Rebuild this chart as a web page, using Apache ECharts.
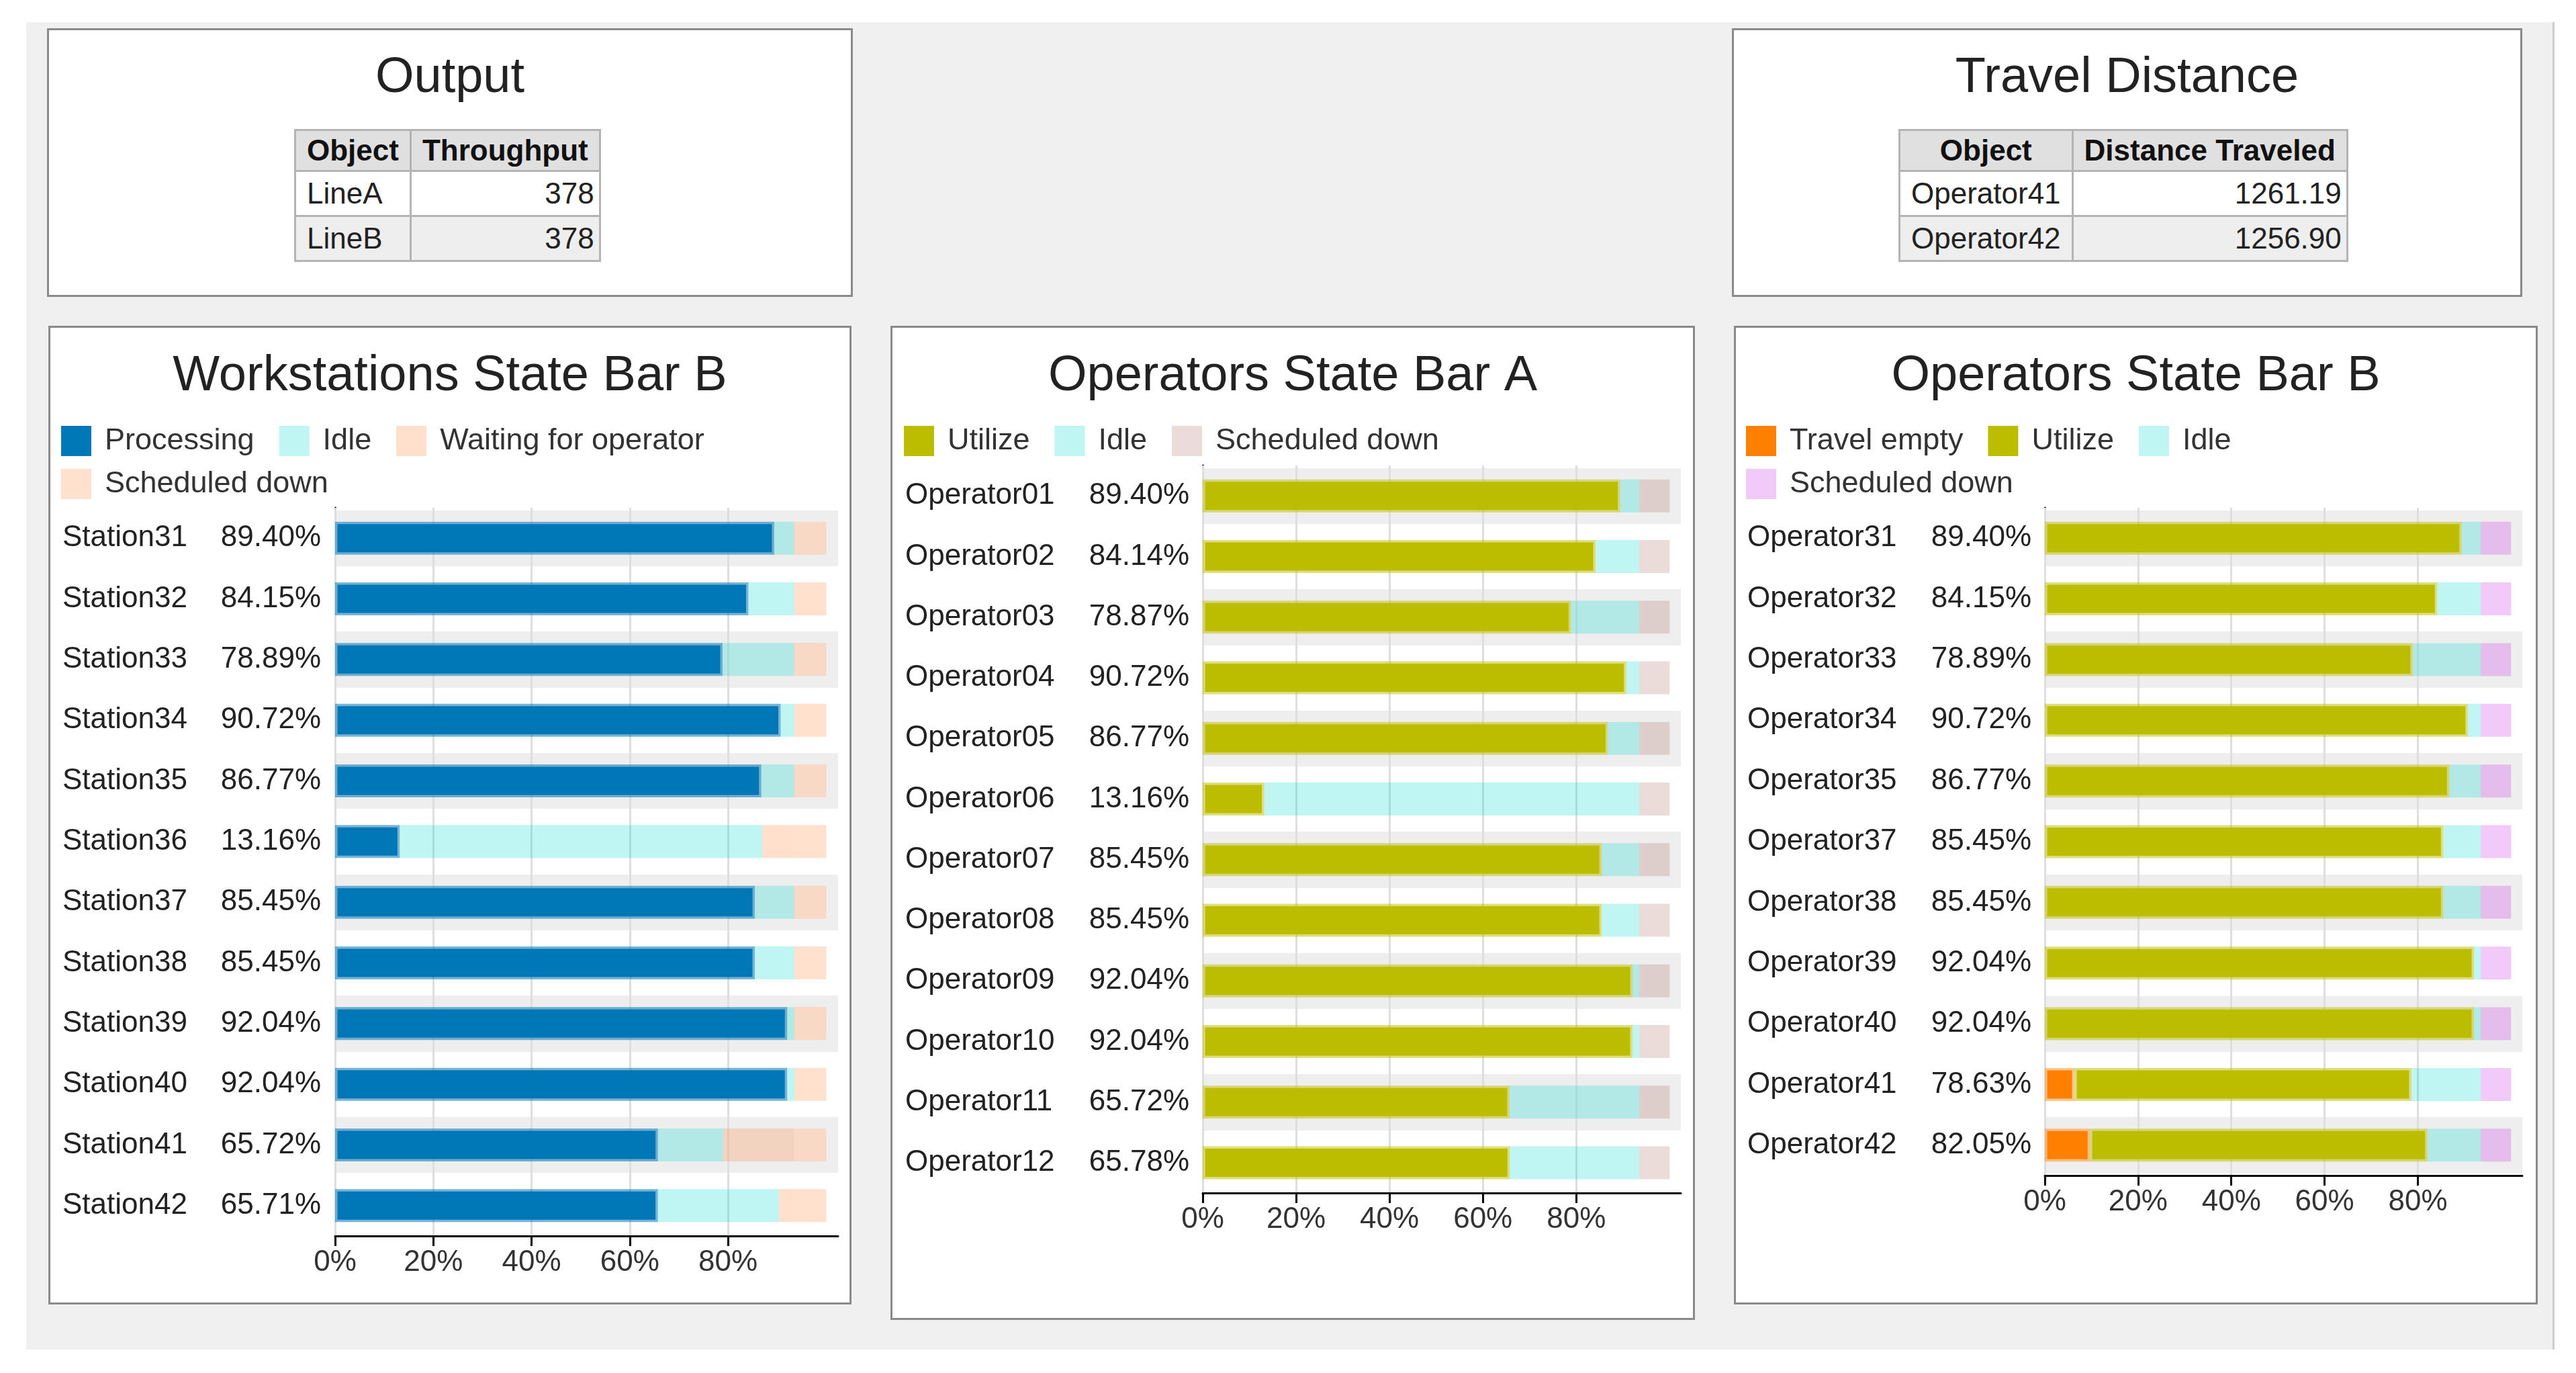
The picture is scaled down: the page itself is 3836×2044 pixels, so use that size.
<!DOCTYPE html>
<html>
<head>
<meta charset="utf-8">
<script src="https://cdn.jsdelivr.net/npm/echarts@6/dist/echarts.min.js"></script>
<style>
html, body { margin: 0; padding: 0; background: #ffffff; width: 3836px; height: 2044px; overflow: hidden;
  font-family: 'Liberation Sans', Arial, sans-serif; }
#bg { position: absolute; left: 39px; top: 33px; width: 3762px; height: 1976px; background: #f0f0f0;
  border-right: 3px solid #cdcdcd; }
.panel { position: absolute; background: #ffffff; border: 3px solid #8a8a8a; box-sizing: border-box; }
.ptitle { position: absolute; left: 0; right: 0; top: 30px; text-align: center; font-size: 74px; line-height: 74px; color: #222; }
.chart { position: absolute; left: 0; top: 0; right: 0; bottom: 0; }
table { position: absolute; top: 147px; border-collapse: collapse; font-size: 44px; color: #222; }
th, td { border: 3px solid #b4b4b4; padding: 0 16px; white-space: nowrap; vertical-align: middle; }
th { background: #e0e0e0; font-weight: bold; color: #111; height: 58px; text-align: center; }
td { height: 64px; }
td.num { text-align: right; padding-right: 7px; }
tr.alt td { background: #eeeeee; }
</style>
</head>
<body>
<div id="bg"></div>
<div class="panel" style="left:70px;top:42px;width:1200px;height:400px;">
  <div class="ptitle">Output</div>
  <table id="tblOutput" style="left:365px;"></table>
</div>
<div class="panel" style="left:2579px;top:42px;width:1177px;height:400px;">
  <div class="ptitle">Travel Distance</div>
  <table id="tblTravel" style="left:245px;"></table>
</div>
<div class="panel" style="left:72px;top:485px;width:1196px;height:1457px;"><div id="cWS" class="chart"></div></div>
<div class="panel" style="left:1326px;top:485px;width:1198px;height:1480px;"><div id="cOA" class="chart"></div></div>
<div class="panel" style="left:2582px;top:485px;width:1197px;height:1457px;"><div id="cOB" class="chart"></div></div>

<script>
// ---------------- data ----------------
const outputObjects = ['LineA', 'LineB'];
const outputThroughput = [378, 378];

const travelObjects = ['Operator41', 'Operator42'];
const travelDistance = [1261.19, 1256.90];

const wsStations = ['Station31', 'Station32', 'Station33', 'Station34', 'Station35', 'Station36',
  'Station37', 'Station38', 'Station39', 'Station40', 'Station41', 'Station42'];
const wsProcessing = [89.40, 84.15, 78.89, 90.72, 86.77, 13.16, 85.45, 85.45, 92.04, 92.04, 65.72, 65.71];
const wsIdle       = [4.10, 9.35, 14.61, 2.78, 6.73, 73.84, 8.05, 8.05, 1.46, 1.46, 13.28, 24.65];
const wsWaiting    = [0, 0, 0, 0, 0, 6.50, 0, 0, 0, 0, 14.50, 3.14];
const wsScheduled  = [6.5, 6.5, 6.5, 6.5, 6.5, 6.5, 6.5, 6.5, 6.5, 6.5, 6.5, 6.5];

const oaOperators = ['Operator01', 'Operator02', 'Operator03', 'Operator04', 'Operator05', 'Operator06',
  'Operator07', 'Operator08', 'Operator09', 'Operator10', 'Operator11', 'Operator12'];
const oaUtilize   = [89.40, 84.14, 78.87, 90.72, 86.77, 13.16, 85.45, 85.45, 92.04, 92.04, 65.72, 65.78];
const oaIdle      = [4.10, 9.36, 14.63, 2.78, 6.73, 80.34, 8.05, 8.05, 1.46, 1.46, 27.78, 27.72];
const oaScheduled = [6.5, 6.5, 6.5, 6.5, 6.5, 6.5, 6.5, 6.5, 6.5, 6.5, 6.5, 6.5];

const obOperators = ['Operator31', 'Operator32', 'Operator33', 'Operator34', 'Operator35',
  'Operator37', 'Operator38', 'Operator39', 'Operator40', 'Operator41', 'Operator42'];
const obTravelEmpty = [0, 0, 0, 0, 0, 0, 0, 0, 0, 6.35, 9.68];
const obUtilize     = [89.40, 84.15, 78.89, 90.72, 86.77, 85.45, 85.45, 92.04, 92.04, 72.28, 72.37];
const obIdle        = [4.10, 9.35, 14.61, 2.78, 6.73, 8.05, 8.05, 1.46, 1.46, 14.87, 11.45];
const obScheduled   = [6.5, 6.5, 6.5, 6.5, 6.5, 6.5, 6.5, 6.5, 6.5, 6.5, 6.5];

const xTickValues = [0, 20, 40, 60, 80];

// ---------------- tables ----------------
function buildTable(id, headers, names, values, fmt) {
  const t = document.getElementById(id);
  let html = '<tr><th>' + headers[0] + '</th><th>' + headers[1] + '</th></tr>';
  names.forEach((n, i) => {
    html += '<tr' + (i % 2 === 1 ? ' class="alt"' : '') + '><td>' + n + '</td><td class="num">' + fmt(values[i]) + '</td></tr>';
  });
  t.innerHTML = html;
}
buildTable('tblOutput', ['Object', 'Throughput'], outputObjects, outputThroughput, v => String(v));
buildTable('tblTravel', ['Object', 'Distance Traveled'], travelObjects, travelDistance, v => v.toFixed(2));

// ---------------- charts ----------------
const FONT = "'Liberation Sans', Arial, sans-serif";
const clean = arr => arr.map(v => (v === 0 ? '-' : v));

function barSeries(name, data, color, border) {
  return {
    type: 'bar', name: name, stack: 'total', data: clean(data), barWidth: 49,
    silent: true,
    itemStyle: border ? { color: color, borderColor: border, borderWidth: 7 } : { color: color, borderWidth: 0 },
    emphasis: { disabled: true }
  };
}

function legendRow(left, top, names) {
  return {
    left: left, top: top, padding: 0, data: names,
    itemWidth: 45, itemHeight: 45, itemGap: 37, icon: 'rect',
    itemStyle: { borderWidth: 0 },
    selectedMode: false,
    textStyle: { fontSize: 45, color: '#333', padding: [0, 0, 0, 15], fontFamily: FONT }
  };
}

function makeOption(cfg) {
  return {
    animation: false,
    textStyle: { fontFamily: FONT },
    title: {
      text: cfg.title, left: 'center', top: 36, padding: 0,
      textStyle: { fontSize: 74, fontWeight: 'normal', color: '#222', fontFamily: FONT }
    },
    legend: cfg.legendRows.map((names, r) => legendRow(cfg.legendLeft, 146 + r * 64, names)),
    grid: { left: cfg.grid[0], right: cfg.grid[1], top: cfg.grid[2], bottom: cfg.grid[3] },
    xAxis: {
      type: 'value', min: 0, max: 102.4, z: 1,
      axisLine: { show: true, lineStyle: { color: '#000', width: 3 } },
      axisTick: { show: true, length: 15, customValues: xTickValues, lineStyle: { color: '#000', width: 3 } },
      axisLabel: { customValues: xTickValues, formatter: '{value}%', fontSize: 44, color: '#333', margin: 18, fontFamily: FONT },
      splitLine: { show: true, lineStyle: { color: '#dedede', width: 3 } }
    },
    yAxis: {
      type: 'category', inverse: true, data: cfg.names, z: 0,
      axisLine: { show: true, lineStyle: { color: '#000', width: 3 } },
      axisTick: { show: false },
      axisLabel: {
        margin: cfg.labelMargin,
        formatter: (v, i) => '{n|' + v + '}{p|' + cfg.pct[i] + '}',
        rich: {
          n: { width: cfg.nameW, align: 'left', fontSize: 44, color: '#222', fontFamily: FONT },
          p: { width: cfg.pctW, align: 'right', fontSize: 44, color: '#222', fontFamily: FONT }
        }
      },
      splitArea: { show: true, areaStyle: { color: ['#eeeeee', 'rgba(255,255,255,0)'] } },
      splitLine: { show: true, lineStyle: { color: '#ffffff', width: 7 } }
    },
    series: cfg.series
  };
}

const wsPct = wsProcessing.map(v => v.toFixed(2) + '%');
const oaPct = oaUtilize.map(v => v.toFixed(2) + '%');
const obPct = obUtilize.map((v, i) => (v + obTravelEmpty[i]).toFixed(2) + '%');

const C = {
  processing: ['#0077b6', 'rgba(0,119,182,0.55)'],
  idle: ['rgba(0,215,203,0.25)', null],
  waiting: ['rgba(255,131,51,0.25)', null],
  schedWS: ['rgba(255,195,157,0.5)', null],
  utilize: ['#bdbd00', 'rgba(189,189,0,0.5)'],
  schedA: ['rgba(155,80,70,0.2)', null],
  travel: ['#ff8000', 'rgba(255,128,0,0.45)'],
  schedB: ['rgba(203,43,235,0.25)', null]
};

const chartWS = echarts.init(document.getElementById('cWS'));
chartWS.setOption(makeOption({
  title: 'Workstations State Bar B', legendLeft: 16, grid: [424, 17, 268, 99],
  legendRows: [['Processing', 'Idle', 'Waiting for operator'], ['Scheduled down']],
  names: wsStations, pct: wsPct, nameW: 236, pctW: 149, labelMargin: 21,
  series: [
    barSeries('Processing', wsProcessing, C.processing[0], C.processing[1]),
    barSeries('Idle', wsIdle, C.idle[0], C.idle[1]),
    barSeries('Waiting for operator', wsWaiting, C.waiting[0], C.waiting[1]),
    barSeries('Scheduled down', wsScheduled, C.schedWS[0], C.schedWS[1])
  ]
}));

const chartOA = echarts.init(document.getElementById('cOA'));
chartOA.setOption(makeOption({
  title: 'Operators State Bar A', legendLeft: 17, grid: [462, 18, 205, 186],
  legendRows: [['Utilize', 'Idle', 'Scheduled down']],
  names: oaOperators, pct: oaPct, nameW: 272, pctW: 151, labelMargin: 20,
  series: [
    barSeries('Utilize', oaUtilize, C.utilize[0], C.utilize[1]),
    barSeries('Idle', oaIdle, C.idle[0], C.idle[1]),
    barSeries('Scheduled down', oaScheduled, C.schedA[0], C.schedA[1])
  ]
}));

const chartOB = echarts.init(document.getElementById('cOB'));
chartOB.setOption(makeOption({
  title: 'Operators State Bar B', legendLeft: 15, grid: [460, 20, 268, 189],
  legendRows: [['Travel empty', 'Utilize', 'Idle'], ['Scheduled down']],
  names: obOperators, pct: obPct, nameW: 273, pctW: 150, labelMargin: 20,
  series: [
    barSeries('Travel empty', obTravelEmpty, C.travel[0], C.travel[1]),
    barSeries('Utilize', obUtilize, C.utilize[0], C.utilize[1]),
    barSeries('Idle', obIdle, C.idle[0], C.idle[1]),
    barSeries('Scheduled down', obScheduled, C.schedB[0], C.schedB[1])
  ]
}));
</script>
</body>
</html>
